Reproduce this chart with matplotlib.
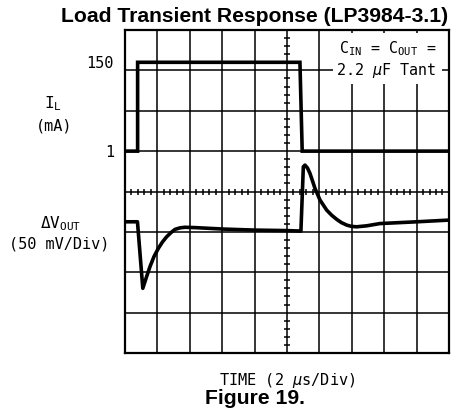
#!/usr/bin/env python3
"""load_transient_lp3984.py"""

import matplotlib

matplotlib.use("Agg")
import matplotlib.pyplot as plt
import numpy as np
from matplotlib.patches import Rectangle

plt.rcParams["mathtext.fontset"] = "custom"
plt.rcParams["mathtext.rm"] = "DejaVu Sans Mono"
plt.rcParams["mathtext.it"] = "DejaVu Sans Mono:oblique"

MONO = "DejaVu Sans Mono"
BOLD = "Liberation Sans"

# load current step (time in us, current in mA)
t_il = [0.0, 0.78, 0.78, 10.80, 10.94, 20.0]
il_ma = [1, 1, 150, 150, 1, 1]

# output voltage deviation (time in us, mV)
t_dv = [0.0, 0.77, 1.10, 1.33, 1.54, 1.79, 2.06, 2.31, 2.57, 2.84, 3.09, 3.40,
        3.70, 4.32, 6.05, 8.02, 10.0, 10.86, 11.01, 11.11, 11.27, 11.42, 11.57,
        11.73, 12.04, 12.45, 12.75, 13.07, 13.36, 13.69, 13.98, 14.30, 14.92,
        15.74, 16.98, 18.02, 20.0]
dv_mv = [0.0, 0.0, -82.4, -68.2, -55.7, -43.1, -32.9, -25.1, -18.6, -13.4, -9.4,
         -7.5, -6.8, -7.2, -9.0, -10.3, -10.9, -11.5, 68.1, 70.2, 66.5, 59.9,
         51.0, 41.3, 26.9, 14.5, 8.3, 3.0, -1.0, -4.1, -5.7, -6.2, -5.0, -2.2,
         -1.0, 0.0, 2.1]

il_ticks = [1, 150]
il_tick_labels = ["1", "150"]


def plot(fig):
    ax = fig.add_axes([0.2753, 0.1575, 0.7136, 0.7709])
    ax.set_xlim(0, 20)
    ax.set_ylim(0, 8)
    ax.set_xticks(np.arange(0, 21, 2))
    ax.set_yticks(np.arange(0, 9, 1))
    ax.set_axisbelow(True)
    ax.grid(True, color="black", linewidth=1.1)
    ax.tick_params(length=0, labelleft=False, labelbottom=False)
    for s in ax.spines.values():
        s.set_linewidth(1.6)

    # minor ticks on the centre graticule lines
    ym = [y for y in np.arange(0.2, 8, 0.2) if abs(y - round(y)) > 0.01]
    ax.plot([10] * len(ym), ym, ls="none", marker="_", ms=5, mew=1.1,
            color="black", zorder=1.5)
    xm = [x for x in np.arange(0.4, 20, 0.4) if abs(x / 2 - round(x / 2)) > 0.01]
    ax.plot(xm, [4] * len(xm), ls="none", marker="|", ms=5, mew=1.1,
            color="black", zorder=1.5)

    # capacitor note box
    ax.add_patch(Rectangle((12.84, 6.66), 6.73, 1.26, facecolor="white",
                           edgecolor="none", zorder=1))
    ax.text(16.2, 7.55, r"C$_{\rm IN}$ = C$_{\rm OUT}$ =", family=MONO,
            fontsize=10.8, ha="center", va="center", zorder=3)
    ax.text(16.1, 7.0, r"2.2 $\mu$F Tant", family=MONO, fontsize=10.8,
            ha="center", va="center", zorder=3)

    # current trace: 1 mA sits on div 5, 150 mA at div 7.2
    k = 2.2 / (150 - 1)
    ax_i = ax.twinx()
    ax_i.set_ylim(1 - 5 / k, 1 + 3 / k)
    ax_i.plot(t_il, il_ma, color="black", linewidth=2.6, solid_joinstyle="miter")
    ax_i.yaxis.set_ticks_position("left")
    ax_i.set_yticks(il_ticks)
    ax_i.set_yticklabels(il_tick_labels, family=MONO, fontsize=11)
    ax_i.tick_params(length=0, pad=8)
    for s in ax_i.spines.values():
        s.set_visible(False)

    # voltage trace: 50 mV/div, baseline at div 3.25
    ax_v = ax.twinx()
    ax_v.set_ylim(-3.25 * 50, 4.75 * 50)
    ax_v.plot(t_dv, dv_mv, color="black", linewidth=2.6)
    ax_v.set_yticks([])
    for s in ax_v.spines.values():
        s.set_visible(False)

    fig.text(0.117, 0.752, r"I$_{\rm L}$", family=MONO, fontsize=11.5,
             ha="center", va="center")
    fig.text(0.119, 0.699, "(mA)", family=MONO, fontsize=11,
             ha="center", va="center")
    fig.text(0.134, 0.466, r"ΔV$_{\rm OUT}$", family=MONO, fontsize=11.5,
             ha="center", va="center")
    fig.text(0.130, 0.418, "(50 mV/Div)", family=MONO, fontsize=11,
             ha="center", va="center")
    fig.text(0.633, 0.0907, r"TIME (2 $\mu$s/Div)", family=MONO, fontsize=11,
             ha="center", va="center")

    fig.text(0.5617, 0.960, "Load Transient Response (LP3984-3.1)", family=BOLD,
             weight="bold", fontsize=15.2, ha="center", va="center")
    fig.text(0.5606, 0.048, "Figure 19.", family=BOLD, weight="bold",
             fontsize=15.2, ha="center", va="center")


def main():
    fig = plt.figure(figsize=(4.54, 4.19), dpi=100)
    plot(fig)
    fig.savefig("out.png", dpi=100)


if __name__ == "__main__":
    main()
